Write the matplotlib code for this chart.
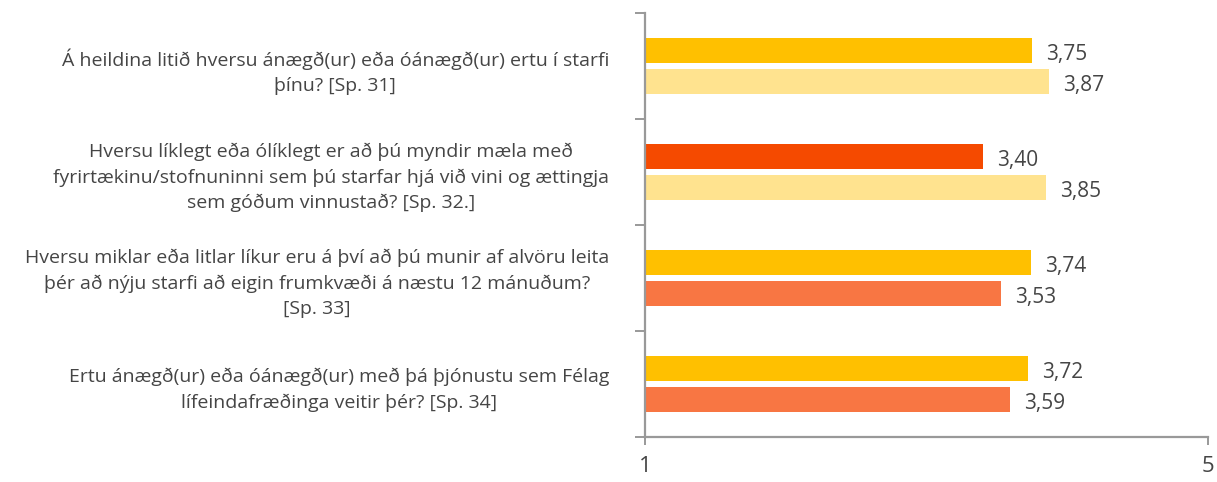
import matplotlib.pyplot as plt
import numpy as np

plt.rcParams["font.family"] = ["Open Sans", "DejaVu Sans"]

# ── Data ───────────────────────────────────────────────────────────────
questions = [
    "Á heildina litið hversu ánægð(ur) eða óánægð(ur) ertu í starfi\nþínu? [Sp. 31]",
    "Hversu líklegt eða ólíklegt er að þú myndir mæla með\nfyrirtækinu/stofnuninni sem þú starfar hjá við vini og ættingja\nsem góðum vinnustað? [Sp. 32.]",
    "Hversu miklar eða litlar líkur eru á því að þú munir af alvöru leita\nþér að nýju starfi að eigin frumkvæði á næstu 12 mánuðum?\n[Sp. 33]",
    "Ertu ánægð(ur) eða óánægð(ur) með þá þjónustu sem Félag\nlífeindafræðinga veitir þér? [Sp. 34]",
]
values_top = [3.75, 3.40, 3.74, 3.72]
values_bottom = [3.87, 3.85, 3.53, 3.59]
colors_top = ["#FFC000", "#F54A00", "#FFC000", "#FFC000"]
colors_bottom = ["#FFE38F", "#FFE38F", "#F87643", "#F87643"]

AXIS_GREY = "#999999"
TEXT_GREY = "#454545"

fig = plt.figure(figsize=(12.17, 4.82), dpi=100)
ax = fig.add_axes([0.530, 0.0934, 0.4626, 0.8796])

y = np.arange(len(questions))
h = 0.236
off = 0.146

ax.barh(y - off, np.array(values_top) - 1, left=1, height=h, color=colors_top)
ax.barh(y + off, np.array(values_bottom) - 1, left=1, height=h, color=colors_bottom)

for yi, v in zip(y - off, values_top):
    ax.text(v + 0.1, yi + 0.04, f"{v:.2f}".replace(".", ","), va="center", ha="left",
            fontsize=15, color=TEXT_GREY)
for yi, v in zip(y + off, values_bottom):
    ax.text(v + 0.1, yi + 0.04, f"{v:.2f}".replace(".", ","), va="center", ha="left",
            fontsize=15, color=TEXT_GREY)

ax.set_xlim(1, 5)
ax.set_ylim(len(questions) - 0.5, -0.5)

ax.set_xticks([1, 5])
ax.set_xticklabels(["1", "5"], fontsize=16, color=TEXT_GREY)
ax.tick_params(axis="x", length=6, width=1.4, color=AXIS_GREY, pad=8)

# category ticks sit between groups, labels at group centres
ax.set_yticks(np.arange(-0.5, len(questions), 1.0))
ax.set_yticklabels([])
ax.set_yticks(y, minor=True)
ax.set_yticklabels(questions, minor=True, fontsize=14, color=TEXT_GREY,
                   multialignment="center", linespacing=1.5)
ax.tick_params(axis="y", which="major", length=7, width=1.4, color=AXIS_GREY)
ax.tick_params(axis="y", which="minor", length=0, pad=26)

for side in ["top", "right"]:
    ax.spines[side].set_visible(False)
for side in ["left", "bottom"]:
    ax.spines[side].set_color(AXIS_GREY)
    ax.spines[side].set_linewidth(1.6)

fig.savefig("out.png", dpi=100)
